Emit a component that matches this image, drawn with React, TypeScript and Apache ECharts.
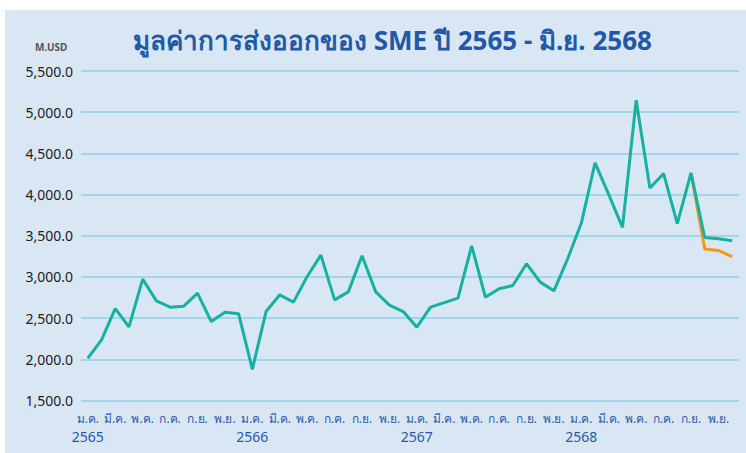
import React, { useEffect, useRef } from "react";
import * as echarts from "echarts";

const monthNames = ["ม.ค.", "ก.พ.", "มี.ค.", "เม.ย.", "พ.ค.", "มิ.ย.", "ก.ค.", "ส.ค.", "ก.ย.", "ต.ค.", "พ.ย.", "ธ.ค."];
const years = ["2565", "2566", "2567", "2568"];

const exportValues = [
  2013, 2235, 2616, 2394, 2974, 2710, 2633, 2645, 2803, 2458, 2572, 2552,
  1879, 2580, 2783, 2694, 3005, 3265, 2722, 2819, 3257, 2819, 2657, 2580,
  2390, 2633, 2689, 2742, 3378, 2755, 2856, 2896, 3160, 2937, 2831, 3220,
  3654, 4384, 4000, 3601, 5145, 4080, 4254, 3646, 4262, 3479, 3463, 3439,
];

const altValues = [
  null, null, null, null, null, null, null, null, null, null, null, null,
  null, null, null, null, null, null, null, null, null, null, null, null,
  null, null, null, null, null, null, null, null, null, null, null, null,
  null, null, null, null, null, null, null, null, 4262, 3338, 3321, 3248,
];

const yTicks = { min: 1500, max: 5500, interval: 500 };

const categories: string[] = [];
years.forEach((y) => monthNames.forEach((m) => categories.push(m + "|" + y)));

export default function App() {
  const ref = useRef<HTMLDivElement>(null);
  useEffect(() => {
    document.body.style.margin = "0";
    const chart = echarts.init(ref.current!, null, { renderer: "svg" });
    const font = "'Noto Sans', sans-serif";
    const baseX = {
      type: "category",
      data: categories,
      boundaryGap: true,
      position: "bottom",
      axisLine: { show: false },
      axisTick: { show: false },
      splitLine: { show: false },
    };
    chart.setOption({
      animation: false,
      backgroundColor: "#ffffff",
      graphic: [
        {
          type: "rect",
          z: -10,
          shape: { x: 5, y: 10, width: 741, height: 443 },
          style: { fill: "#d9e6f3" },
          silent: true,
        },
        {
          type: "text",
          left: 133,
          top: 27,
          style: {
            text: "มูลค่าการส่งออกของ SME ปี 2565 - มิ.ย. 2568",
            fill: "#2158a8",
            font: "bold 26px " + font,
          },
        },
        {
          type: "text",
          x: 35,
          y: 42,
          style: {
            text: "M.USD",
            fill: "#555555",
            font: "bold 10px " + font,
          },
        },
      ],
      grid: { left: 81, right: 7, top: 71, bottom: 52.5, containLabel: false },
      xAxis: [
        {
          ...baseX,
          axisLabel: {
            interval: 1,
            margin: 12,
            verticalAlign: "top",
            color: "#2f5ba5",
            fontSize: 12,
            fontFamily: font,
            lineHeight: 12,
            formatter: (v: string) => v.split("|")[0],
          },
        },
        {
          ...baseX,
          axisLabel: {
            interval: (i: number) => i % 12 === 0,
            margin: 29,
            verticalAlign: "top",
            color: "#2a58a6",
            fontSize: 14,
            fontFamily: font,
            lineHeight: 14,
            formatter: (v: string) => v.split("|")[1],
          },
        },
      ],
      yAxis: {
        type: "value",
        min: yTicks.min,
        max: yTicks.max,
        interval: yTicks.interval,
        axisLine: { show: false },
        axisTick: { show: false },
        splitLine: { lineStyle: { color: "#8dd0ea", width: 1.5 } },
        axisLabel: {
          color: "#222222",
          fontSize: 14,
          fontFamily: font,
          margin: 8,
          formatter: (v: number) =>
            v.toLocaleString("en-US", { minimumFractionDigits: 1, maximumFractionDigits: 1 }),
        },
      },
      series: [
        {
          type: "line",
          data: altValues,
          symbol: "none",
          lineStyle: { color: "#f7941d", width: 3 },
          z: 2,
        },
        {
          type: "line",
          data: exportValues,
          symbol: "none",
          lineStyle: { color: "#17b1a1", width: 3 },
          z: 3,
        },
      ],
    });
    return () => chart.dispose();
  }, []);
  return <div ref={ref} style={{ width: 746, height: 453 }} />;
}
